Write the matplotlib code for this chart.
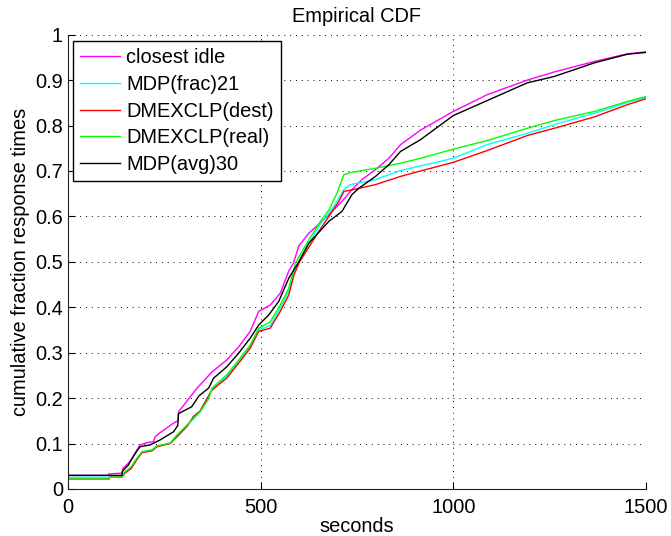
import matplotlib
matplotlib.use("Agg")
import matplotlib.pyplot as plt
from matplotlib.ticker import FixedLocator, FuncFormatter

plt.rcParams['font.family'] = ['Liberation Sans', 'DejaVu Sans']

# ---- data ----
closest_x = [0, 105, 105, 140, 143, 157, 164, 174, 187, 205, 222, 226, 239, 274, 285, 287,
             335, 374, 412, 443, 473, 495, 525, 551, 573, 585, 599, 625, 668, 711, 737, 763,
             798, 833, 863, 915, 1000, 1088, 1192, 1262, 1366, 1452, 1500]
closest_y = [0.030, 0.030, 0.033, 0.035, 0.046, 0.057, 0.064, 0.079, 0.097, 0.102, 0.104, 0.115,
             0.124, 0.145, 0.150, 0.170, 0.222, 0.258, 0.284, 0.313, 0.347, 0.391, 0.405, 0.431,
             0.480, 0.497, 0.535, 0.563, 0.596, 0.633, 0.659, 0.681, 0.703, 0.728, 0.758, 0.790,
             0.831, 0.868, 0.900, 0.918, 0.941, 0.958, 0.962]

frac_x = [0, 140, 148, 164, 179, 192, 218, 231, 265, 283, 309, 343, 374, 412, 443, 473, 495,
          525, 551, 573, 590, 625, 651, 690, 716, 733, 798, 863, 915, 1000, 1088, 1192, 1262,
          1366, 1452, 1500]
frac_y = [0.026, 0.026, 0.036, 0.047, 0.066, 0.081, 0.085, 0.094, 0.101, 0.117, 0.139, 0.171,
          0.220, 0.248, 0.280, 0.313, 0.350, 0.360, 0.398, 0.435, 0.485, 0.540, 0.578, 0.622,
          0.659, 0.670, 0.681, 0.701, 0.711, 0.728, 0.758, 0.783, 0.802, 0.827, 0.851, 0.862]

dest_x = [0, 107, 108, 140, 148, 164, 179, 192, 218, 231, 265, 283, 309, 326, 343, 374, 412,
          443, 473, 495, 525, 551, 573, 586, 601, 651, 703, 716, 746, 798, 863, 915, 1000,
          1088, 1192, 1262, 1366, 1452, 1500]
dest_y = [0.022, 0.022, 0.026, 0.026, 0.035, 0.045, 0.065, 0.080, 0.084, 0.093, 0.100, 0.115,
          0.138, 0.160, 0.172, 0.218, 0.244, 0.277, 0.310, 0.347, 0.354, 0.391, 0.427, 0.470,
          0.500, 0.567, 0.633, 0.655, 0.660, 0.670, 0.688, 0.700, 0.719, 0.745, 0.778, 0.794,
          0.819, 0.846, 0.859]

real_x = [0, 107, 108, 140, 148, 164, 179, 192, 218, 231, 265, 283, 309, 343, 365, 374, 412,
          443, 473, 495, 525, 551, 573, 590, 625, 655, 677, 698, 716, 737, 798, 863, 915, 1000,
          1088, 1192, 1262, 1366, 1452, 1500]
real_y = [0.022, 0.022, 0.026, 0.026, 0.038, 0.049, 0.068, 0.082, 0.086, 0.095, 0.101, 0.119,
          0.141, 0.170, 0.198, 0.222, 0.251, 0.284, 0.317, 0.354, 0.368, 0.405, 0.442, 0.497,
          0.548, 0.589, 0.614, 0.651, 0.692, 0.697, 0.706, 0.717, 0.728, 0.748, 0.767, 0.794,
          0.811, 0.831, 0.853, 0.864]

avg_x = [0, 140, 142, 157, 164, 180, 187, 213, 239, 274, 285, 287, 321, 340, 365, 378, 412,
         443, 473, 495, 521, 547, 573, 599, 625, 677, 711, 737, 755, 798, 833, 863, 915, 1000,
         1088, 1192, 1262, 1366, 1452, 1500]
avg_y = [0.030, 0.030, 0.040, 0.053, 0.064, 0.085, 0.093, 0.097, 0.108, 0.126, 0.140, 0.166,
         0.181, 0.205, 0.222, 0.244, 0.269, 0.299, 0.332, 0.361, 0.383, 0.413, 0.464, 0.500,
         0.541, 0.589, 0.611, 0.648, 0.662, 0.688, 0.714, 0.743, 0.769, 0.822, 0.855, 0.894,
         0.908, 0.938, 0.957, 0.961]

labels = ['closest idle', 'MDP(frac)21', 'DMEXCLP(dest)', 'DMEXCLP(real)', 'MDP(avg)30']
colors = ['#ff00ff', '#00ffff', '#ff0000', '#00ff00', '#000000']
xticks = [0, 500, 1000, 1500]
yticks = [0, 0.1, 0.2, 0.3, 0.4, 0.5, 0.6, 0.7, 0.8, 0.9, 1.0]

series = [(closest_x, closest_y), (frac_x, frac_y), (dest_x, dest_y),
          (real_x, real_y), (avg_x, avg_y)]

FS = 14.4

fig = plt.figure(figsize=(6.71, 5.36), dpi=100)
ax = fig.add_axes([0.1013, 0.0877, 0.8614, 0.8476])

for (xs, ys), lab, col in zip(series, labels, colors):
    ax.plot(xs, ys, color=col, lw=1.0, label=lab)

ax.set_xlim(0, 1500)
ax.set_ylim(0, 1)
ax.xaxis.set_major_locator(FixedLocator(xticks))
ax.yaxis.set_major_locator(FixedLocator(yticks))
ax.yaxis.set_major_formatter(FuncFormatter(lambda v, p: ('%g' % round(v, 2))))
ax.tick_params(direction='in', length=5, width=0.8, labelsize=FS)
ax.tick_params(axis='x', pad=6.5)
ax.tick_params(axis='y', pad=3.5)
ax.grid(True, color='k', linestyle=(0, (1, 5)), linewidth=0.7)
for s in ['top', 'right']:
    ax.spines[s].set_visible(False)
for s in ['left', 'bottom']:
    ax.spines[s].set_linewidth(0.8)
    ax.spines[s].set_color('#222222')

ax.set_title('Empirical CDF', fontsize=FS, pad=9)
ax.set_xlabel('seconds', fontsize=FS, labelpad=0)
ax.set_ylabel('cumulative fraction response times', fontsize=FS, labelpad=4)

leg = ax.legend(loc='upper left', bbox_to_anchor=(0.0087, 0.985), borderaxespad=0,
                fontsize=FS, frameon=True, fancybox=False, handlelength=2.0,
                handletextpad=0.3, labelspacing=0.38, borderpad=0.35)
leg.get_frame().set_edgecolor('k')
leg.get_frame().set_linewidth(1.0)
leg.get_frame().set_alpha(1.0)

fig.savefig('out.png', dpi=100)
